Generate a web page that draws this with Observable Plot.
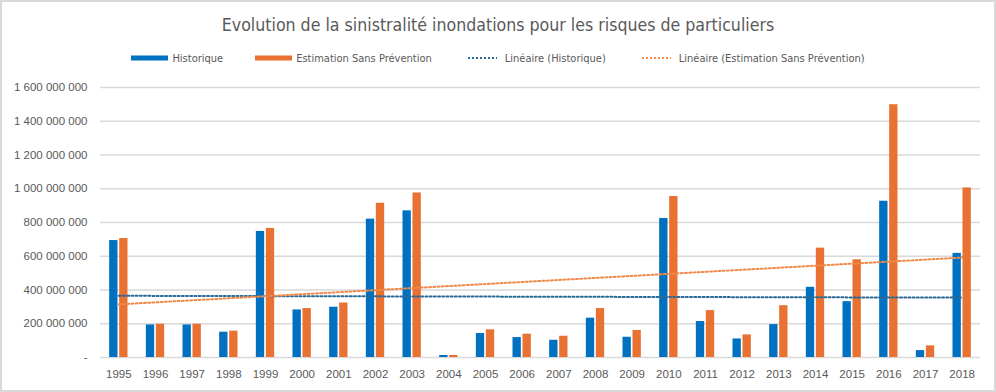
<!DOCTYPE html>
<html>
<head>
<meta charset="utf-8">
<script src="https://cdn.jsdelivr.net/npm/d3@7"></script>
<script src="https://cdn.jsdelivr.net/npm/@observablehq/plot@0.6"></script>
<style>
  html, body { margin: 0; padding: 0; background: white; }
  #chart {
    width: 996px; height: 392px; box-sizing: border-box;
    border: 2px solid #d9d9d9; background: white; overflow: hidden;
    font-family: "DejaVu Sans Condensed", "Liberation Sans", sans-serif;
    color: #595959;
  }
  #title { height: 46px; line-height: 46px; text-align: center; font-size: 17.6px; color: #595959; }
  #legend { height: 20px; display: flex; justify-content: center; align-items: center; font-size: 11px; color: #595959; }
  .item { display: flex; align-items: center; margin: 0 16px; }
  .item svg { margin-right: 4px; }
</style>
</head>
<body>
<div id="chart">
  <div id="title"></div>
  <div id="legend"></div>
  <div id="plot"></div>
</div>
<script>
const title = "Evolution de la sinistralité inondations pour les risques de particuliers";
const years = ["1995","1996","1997","1998","1999","2000","2001","2002","2003","2004","2005","2006",
               "2007","2008","2009","2010","2011","2012","2013","2014","2015","2016","2017","2018"];
const historique = [693e6, 193e6, 193e6, 150e6, 747e6, 282e6, 298e6, 820e6, 869e6, 12e6, 142e6, 118e6,
                    102e6, 233e6, 120e6, 824e6, 213e6, 110e6, 195e6, 416e6, 331e6, 926e6, 41e6, 617e6];
const estimation = [705e6, 197e6, 197e6, 156e6, 765e6, 290e6, 323e6, 914e6, 975e6, 12e6, 164e6, 138e6,
                    126e6, 290e6, 160e6, 954e6, 278e6, 134e6, 307e6, 648e6, 579e6, 1498e6, 69e6, 1005e6];
const seriesNames = ["Historique", "Estimation Sans Prévention", "Linéaire (Historique)", "Linéaire (Estimation Sans Prévention)"];
const yTicks = [0, 200e6, 400e6, 600e6, 800e6, 1000e6, 1200e6, 1400e6, 1600e6];

const colors = { hist: "#0070C0", est: "#E97132", trendHist: "#2A6A96", trendEst: "#F08A4B" };

// least-squares linear trend over category index (as Excel does)
function linearFit(vals) {
  const xs = vals.map((_, i) => i + 1);
  const mx = d3.mean(xs), my = d3.mean(vals);
  const b = d3.sum(xs, (x, i) => (x - mx) * (vals[i] - my)) / d3.sum(xs, x => (x - mx) ** 2);
  const a = my - b * mx;
  return xs.map(x => a + b * x);
}

const histRows = years.map((y, i) => ({ year: y, value: historique[i] }));
const estRows = years.map((y, i) => ({ year: y, value: estimation[i] }));
const fitH = linearFit(historique), fitE = linearFit(estimation);
const trendHRows = years.map((y, i) => ({ year: y, value: fitH[i] }));
const trendERows = years.map((y, i) => ({ year: y, value: fitE[i] }));

const loc = d3.formatLocale({ decimal: ",", thousands: " ", grouping: [3], currency: ["", " €"] });
const fmtNum = loc.format(",.0f");
const fmt = v => v === 0 ? "-" : fmtNum(v);

document.getElementById("title").textContent = title;

// legend
const legend = document.getElementById("legend");
const legendItems = [
  { name: seriesNames[0], type: "bar", color: colors.hist },
  { name: seriesNames[1], type: "bar", color: colors.est },
  { name: seriesNames[2], type: "line", color: colors.trendHist },
  { name: seriesNames[3], type: "line", color: colors.trendEst }
];
for (const it of legendItems) {
  const div = document.createElement("div");
  div.className = "item";
  const ns = "http://www.w3.org/2000/svg";
  const s = document.createElementNS(ns, "svg");
  s.setAttribute("width", 37); s.setAttribute("height", 8);
  if (it.type === "bar") {
    const r = document.createElementNS(ns, "rect");
    r.setAttribute("x", 0); r.setAttribute("y", 1.5); r.setAttribute("width", 37); r.setAttribute("height", 5);
    r.setAttribute("fill", it.color);
    s.appendChild(r);
  } else {
    const l = document.createElementNS(ns, "line");
    l.setAttribute("x1", 4); l.setAttribute("x2", 33); l.setAttribute("y1", 4); l.setAttribute("y2", 4);
    l.setAttribute("stroke", it.color); l.setAttribute("stroke-width", 2); l.setAttribute("stroke-dasharray", "2 2");
    s.appendChild(l);
  }
  div.appendChild(s);
  const t = document.createElement("span");
  t.textContent = it.name;
  div.appendChild(t);
  legend.appendChild(div);
}

const chart = Plot.plot({
  width: 992,
  height: 322,
  marginTop: 19,
  marginBottom: 33,
  marginLeft: 98,
  marginRight: 14,
  style: { fontFamily: "'Liberation Sans', Arial, sans-serif", fontSize: "11.5px", color: "#595959", background: "white", overflow: "visible" },
  x: { domain: years, paddingInner: 0.5, paddingOuter: 0.25, round: false },
  y: { domain: [0, 1600e6] },
  marks: [
    Plot.gridY(yTicks.filter(t => t > 0), { stroke: "#d9d9d9", strokeOpacity: 1, strokeWidth: 1.3 }),
    Plot.ruleY([0], { stroke: "#d9d9d9", strokeWidth: 1.3 }),
    Plot.barY(histRows, { x: "year", y: "value", fill: colors.hist, insetRight: 10 }),
    Plot.barY(estRows, { x: "year", y: "value", fill: colors.est, insetLeft: 10 }),
    Plot.line(trendHRows, { x: "year", y: "value", stroke: colors.trendHist, strokeWidth: 2, strokeDasharray: "2 2.2" }),
    Plot.line(trendERows, { x: "year", y: "value", stroke: colors.trendEst, strokeWidth: 2, strokeDasharray: "2 2.2" }),
    Plot.axisY(yTicks, { tickSize: 0, tickPadding: 13, tickFormat: fmt, label: null }),
    Plot.axisX({ tickSize: 0, tickPadding: 12, label: null })
  ]
});
document.getElementById("plot").appendChild(chart);
</script>
</body>
</html>
